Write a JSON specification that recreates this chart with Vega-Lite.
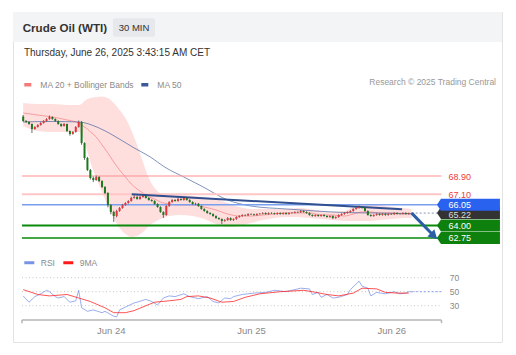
{
"$schema":"https://vega.github.io/schema/vega-lite/v6.json",
"width":489,"height":330,
"padding":{"left":13,"top":12,"right":14,"bottom":13},
"background":"#ffffff",
"config":{"font":"Liberation Sans","view":{"stroke":"#e3e3e3","strokeWidth":1}},
"datasets":{
"candles":[
{"t":"2025-06-23T09:00Z","o":74.80,"h":74.95,"l":74.28,"c":74.36},
{"t":"2025-06-23T09:30Z","o":74.36,"h":74.45,"l":74.18,"c":74.26},
{"t":"2025-06-23T10:00Z","o":74.26,"h":74.34,"l":73.98,"c":74.06},
{"t":"2025-06-23T10:30Z","o":74.06,"h":74.12,"l":73.17,"c":73.56},
{"t":"2025-06-23T11:00Z","o":73.56,"h":73.84,"l":73.48,"c":73.76},
{"t":"2025-06-23T11:30Z","o":73.76,"h":74.04,"l":73.70,"c":73.96},
{"t":"2025-06-23T12:00Z","o":73.96,"h":74.24,"l":73.90,"c":74.16},
{"t":"2025-06-23T12:30Z","o":74.16,"h":74.44,"l":74.10,"c":74.36},
{"t":"2025-06-23T13:00Z","o":74.36,"h":74.64,"l":74.30,"c":74.55},
{"t":"2025-06-23T13:30Z","o":74.55,"h":74.90,"l":74.48,"c":74.75},
{"t":"2025-06-23T14:00Z","o":74.75,"h":74.82,"l":74.47,"c":74.55},
{"t":"2025-06-23T14:30Z","o":74.55,"h":74.62,"l":74.28,"c":74.36},
{"t":"2025-06-23T15:00Z","o":74.36,"h":74.42,"l":73.98,"c":74.06},
{"t":"2025-06-23T15:30Z","o":74.06,"h":74.12,"l":73.76,"c":73.86},
{"t":"2025-06-23T16:00Z","o":73.86,"h":74.16,"l":73.80,"c":74.06},
{"t":"2025-06-23T16:30Z","o":74.06,"h":74.10,"l":73.26,"c":73.36},
{"t":"2025-06-23T17:00Z","o":73.36,"h":73.42,"l":72.90,"c":73.07},
{"t":"2025-06-23T17:30Z","o":73.07,"h":73.36,"l":73.00,"c":73.27},
{"t":"2025-06-23T18:00Z","o":73.27,"h":73.84,"l":73.20,"c":73.76},
{"t":"2025-06-23T18:30Z","o":73.76,"h":74.40,"l":73.70,"c":74.26},
{"t":"2025-06-23T19:00Z","o":74.26,"h":74.35,"l":72.00,"c":72.17},
{"t":"2025-06-23T19:30Z","o":72.17,"h":72.25,"l":70.50,"c":70.69},
{"t":"2025-06-23T20:00Z","o":70.69,"h":70.80,"l":69.40,"c":69.50},
{"t":"2025-06-23T20:30Z","o":69.50,"h":69.60,"l":68.55,"c":68.70},
{"t":"2025-06-23T21:00Z","o":68.70,"h":68.85,"l":68.30,"c":68.50},
{"t":"2025-06-23T21:30Z","o":68.50,"h":68.95,"l":68.42,"c":68.80},
{"t":"2025-06-23T22:00Z","o":68.80,"h":68.88,"l":68.30,"c":68.40},
{"t":"2025-06-23T22:30Z","o":68.40,"h":68.48,"l":67.70,"c":67.81},
{"t":"2025-06-23T23:00Z","o":67.81,"h":67.90,"l":67.10,"c":67.21},
{"t":"2025-06-23T23:30Z","o":67.21,"h":67.30,"l":65.80,"c":66.02},
{"t":"2025-06-24T00:00Z","o":66.02,"h":66.10,"l":65.10,"c":65.33},
{"t":"2025-06-24T00:30Z","o":65.33,"h":65.45,"l":64.34,"c":64.93},
{"t":"2025-06-24T01:00Z","o":64.93,"h":65.55,"l":64.80,"c":65.43},
{"t":"2025-06-24T01:30Z","o":65.43,"h":65.82,"l":65.35,"c":65.73},
{"t":"2025-06-24T02:00Z","o":65.73,"h":66.10,"l":65.65,"c":66.02},
{"t":"2025-06-24T02:30Z","o":66.02,"h":66.30,"l":65.95,"c":66.22},
{"t":"2025-06-24T03:00Z","o":66.22,"h":66.50,"l":66.15,"c":66.42},
{"t":"2025-06-24T03:30Z","o":66.42,"h":66.85,"l":66.35,"c":66.72},
{"t":"2025-06-24T04:00Z","o":66.72,"h":67.00,"l":66.65,"c":66.82},
{"t":"2025-06-24T04:30Z","o":66.82,"h":66.95,"l":66.55,"c":66.62},
{"t":"2025-06-24T05:00Z","o":66.62,"h":66.92,"l":66.55,"c":66.82},
{"t":"2025-06-24T05:30Z","o":66.82,"h":67.05,"l":66.75,"c":66.92},
{"t":"2025-06-24T06:00Z","o":66.92,"h":67.00,"l":66.65,"c":66.72},
{"t":"2025-06-24T06:30Z","o":66.72,"h":66.80,"l":66.45,"c":66.52},
{"t":"2025-06-24T07:00Z","o":66.52,"h":66.60,"l":66.35,"c":66.42},
{"t":"2025-06-24T07:30Z","o":66.42,"h":66.50,"l":66.05,"c":66.12},
{"t":"2025-06-24T08:00Z","o":66.12,"h":66.20,"l":65.75,"c":65.82},
{"t":"2025-06-24T08:30Z","o":65.82,"h":65.90,"l":65.25,"c":65.33},
{"t":"2025-06-24T09:00Z","o":65.33,"h":65.40,"l":64.73,"c":65.03},
{"t":"2025-06-24T09:30Z","o":65.03,"h":66.00,"l":64.95,"c":65.92},
{"t":"2025-06-24T10:00Z","o":65.92,"h":66.40,"l":65.85,"c":66.32},
{"t":"2025-06-24T10:30Z","o":66.32,"h":66.60,"l":66.25,"c":66.52},
{"t":"2025-06-24T11:00Z","o":66.52,"h":66.60,"l":66.35,"c":66.42},
{"t":"2025-06-24T11:30Z","o":66.42,"h":66.72,"l":66.35,"c":66.62},
{"t":"2025-06-24T12:00Z","o":66.62,"h":66.70,"l":66.45,"c":66.52},
{"t":"2025-06-24T12:30Z","o":66.52,"h":66.82,"l":66.45,"c":66.72},
{"t":"2025-06-24T13:00Z","o":66.72,"h":66.80,"l":66.45,"c":66.52},
{"t":"2025-06-24T13:30Z","o":66.52,"h":66.60,"l":66.25,"c":66.32},
{"t":"2025-06-24T14:00Z","o":66.32,"h":66.40,"l":66.05,"c":66.12},
{"t":"2025-06-24T14:30Z","o":66.12,"h":66.25,"l":66.02,"c":66.15},
{"t":"2025-06-24T15:00Z","o":66.15,"h":66.22,"l":65.85,"c":65.92},
{"t":"2025-06-24T15:30Z","o":65.92,"h":66.00,"l":65.55,"c":65.63},
{"t":"2025-06-24T16:00Z","o":65.63,"h":65.70,"l":65.35,"c":65.43},
{"t":"2025-06-24T16:30Z","o":65.43,"h":65.50,"l":65.15,"c":65.23},
{"t":"2025-06-24T17:00Z","o":65.23,"h":65.32,"l":65.05,"c":65.13},
{"t":"2025-06-24T17:30Z","o":65.13,"h":65.20,"l":64.85,"c":64.93},
{"t":"2025-06-24T18:00Z","o":64.93,"h":65.00,"l":64.65,"c":64.73},
{"t":"2025-06-24T18:30Z","o":64.73,"h":64.80,"l":64.55,"c":64.63},
{"t":"2025-06-24T19:00Z","o":64.63,"h":64.70,"l":64.14,"c":64.44},
{"t":"2025-06-24T19:30Z","o":64.44,"h":64.62,"l":64.36,"c":64.53},
{"t":"2025-06-24T20:00Z","o":64.53,"h":64.82,"l":64.46,"c":64.73},
{"t":"2025-06-24T20:30Z","o":64.73,"h":64.80,"l":64.45,"c":64.53},
{"t":"2025-06-24T21:00Z","o":64.53,"h":64.70,"l":64.45,"c":64.63},
{"t":"2025-06-24T21:30Z","o":64.63,"h":64.90,"l":64.56,"c":64.83},
{"t":"2025-06-24T22:00Z","o":64.83,"h":65.00,"l":64.76,"c":64.93},
{"t":"2025-06-24T22:30Z","o":64.93,"h":65.10,"l":64.86,"c":65.03},
{"t":"2025-06-24T23:00Z","o":65.03,"h":65.10,"l":64.92,"c":65.00},
{"t":"2025-06-24T23:30Z","o":65.00,"h":65.20,"l":64.93,"c":65.13},
{"t":"2025-06-25T00:00Z","o":65.13,"h":65.20,"l":65.03,"c":65.10},
{"t":"2025-06-25T00:30Z","o":65.10,"h":65.17,"l":64.96,"c":65.03},
{"t":"2025-06-25T01:00Z","o":65.03,"h":65.20,"l":64.96,"c":65.13},
{"t":"2025-06-25T01:30Z","o":65.13,"h":65.23,"l":65.06,"c":65.16},
{"t":"2025-06-25T02:00Z","o":65.16,"h":65.30,"l":65.09,"c":65.23},
{"t":"2025-06-25T02:30Z","o":65.23,"h":65.30,"l":65.06,"c":65.13},
{"t":"2025-06-25T03:00Z","o":65.13,"h":65.30,"l":65.06,"c":65.23},
{"t":"2025-06-25T03:30Z","o":65.23,"h":65.30,"l":65.13,"c":65.20},
{"t":"2025-06-25T04:00Z","o":65.20,"h":65.27,"l":65.06,"c":65.13},
{"t":"2025-06-25T04:30Z","o":65.13,"h":65.30,"l":65.06,"c":65.23},
{"t":"2025-06-25T05:00Z","o":65.23,"h":65.30,"l":65.06,"c":65.13},
{"t":"2025-06-25T05:30Z","o":65.13,"h":65.30,"l":65.06,"c":65.23},
{"t":"2025-06-25T06:00Z","o":65.23,"h":65.30,"l":65.06,"c":65.13},
{"t":"2025-06-25T06:30Z","o":65.13,"h":65.30,"l":65.06,"c":65.23},
{"t":"2025-06-25T07:00Z","o":65.23,"h":65.32,"l":65.16,"c":65.25},
{"t":"2025-06-25T07:30Z","o":65.25,"h":65.40,"l":65.18,"c":65.33},
{"t":"2025-06-25T08:00Z","o":65.33,"h":65.40,"l":65.22,"c":65.30},
{"t":"2025-06-25T08:30Z","o":65.30,"h":65.52,"l":65.24,"c":65.43},
{"t":"2025-06-25T09:00Z","o":65.43,"h":65.50,"l":65.26,"c":65.33},
{"t":"2025-06-25T09:30Z","o":65.33,"h":65.40,"l":65.16,"c":65.23},
{"t":"2025-06-25T10:00Z","o":65.23,"h":65.30,"l":64.96,"c":65.03},
{"t":"2025-06-25T10:30Z","o":65.03,"h":65.10,"l":64.86,"c":64.93},
{"t":"2025-06-25T11:00Z","o":64.93,"h":65.10,"l":64.86,"c":65.03},
{"t":"2025-06-25T11:30Z","o":65.03,"h":65.10,"l":64.86,"c":64.93},
{"t":"2025-06-25T12:00Z","o":64.93,"h":65.10,"l":64.86,"c":65.03},
{"t":"2025-06-25T12:30Z","o":65.03,"h":65.10,"l":64.86,"c":64.93},
{"t":"2025-06-25T13:00Z","o":64.93,"h":65.00,"l":64.76,"c":64.83},
{"t":"2025-06-25T13:30Z","o":64.83,"h":65.00,"l":64.76,"c":64.93},
{"t":"2025-06-25T14:00Z","o":64.93,"h":65.00,"l":64.62,"c":64.73},
{"t":"2025-06-25T14:30Z","o":64.73,"h":64.90,"l":64.66,"c":64.83},
{"t":"2025-06-25T15:00Z","o":64.83,"h":65.10,"l":64.76,"c":65.03},
{"t":"2025-06-25T15:30Z","o":65.03,"h":65.20,"l":64.96,"c":65.13},
{"t":"2025-06-25T16:00Z","o":65.13,"h":65.30,"l":65.06,"c":65.23},
{"t":"2025-06-25T16:30Z","o":65.23,"h":65.40,"l":65.16,"c":65.33},
{"t":"2025-06-25T17:00Z","o":65.33,"h":65.50,"l":65.26,"c":65.43},
{"t":"2025-06-25T17:30Z","o":65.43,"h":65.70,"l":65.36,"c":65.63},
{"t":"2025-06-25T18:00Z","o":65.63,"h":65.80,"l":65.56,"c":65.73},
{"t":"2025-06-25T18:30Z","o":65.73,"h":65.95,"l":65.66,"c":65.82},
{"t":"2025-06-25T19:00Z","o":65.82,"h":65.90,"l":65.66,"c":65.73},
{"t":"2025-06-25T19:30Z","o":65.73,"h":65.80,"l":65.36,"c":65.43},
{"t":"2025-06-25T20:00Z","o":65.43,"h":65.50,"l":64.96,"c":65.03},
{"t":"2025-06-25T20:30Z","o":65.03,"h":65.10,"l":64.86,"c":64.93},
{"t":"2025-06-25T21:00Z","o":64.93,"h":65.10,"l":64.86,"c":65.03},
{"t":"2025-06-25T21:30Z","o":65.03,"h":65.20,"l":64.96,"c":65.13},
{"t":"2025-06-25T22:00Z","o":65.13,"h":65.20,"l":64.96,"c":65.03},
{"t":"2025-06-25T22:30Z","o":65.03,"h":65.20,"l":64.96,"c":65.13},
{"t":"2025-06-25T23:00Z","o":65.13,"h":65.20,"l":64.96,"c":65.03},
{"t":"2025-06-25T23:30Z","o":65.03,"h":65.20,"l":64.96,"c":65.13},
{"t":"2025-06-26T00:00Z","o":65.13,"h":65.20,"l":65.03,"c":65.10},
{"t":"2025-06-26T00:30Z","o":65.10,"h":65.30,"l":65.03,"c":65.23},
{"t":"2025-06-26T01:00Z","o":65.23,"h":65.30,"l":65.06,"c":65.13},
{"t":"2025-06-26T01:30Z","o":65.13,"h":65.22,"l":65.06,"c":65.15},
{"t":"2025-06-26T02:00Z","o":65.15,"h":65.30,"l":65.08,"c":65.23},
{"t":"2025-06-26T02:30Z","o":65.23,"h":65.30,"l":65.06,"c":65.13},
{"t":"2025-06-26T03:00Z","o":65.13,"h":65.27,"l":65.06,"c":65.20},
{"t":"2025-06-26T03:30Z","o":65.20,"h":65.28,"l":65.14,"c":65.22}
],
"bb":[
{"t":"2025-06-23T09:00Z","up":76.14,"lo":73.86},
{"t":"2025-06-23T11:30Z","up":76.04,"lo":73.36},
{"t":"2025-06-23T14:00Z","up":76.04,"lo":73.27},
{"t":"2025-06-23T16:30Z","up":75.94,"lo":73.27},
{"t":"2025-06-23T18:30Z","up":75.94,"lo":73.27},
{"t":"2025-06-23T19:00Z","up":76.04,"lo":73.07},
{"t":"2025-06-23T19:30Z","up":76.34,"lo":72.27},
{"t":"2025-06-23T20:00Z","up":76.54,"lo":71.28},
{"t":"2025-06-23T20:30Z","up":76.64,"lo":70.29},
{"t":"2025-06-23T21:30Z","up":76.74,"lo":68.70},
{"t":"2025-06-23T22:30Z","up":76.79,"lo":67.31},
{"t":"2025-06-23T23:30Z","up":76.64,"lo":65.92},
{"t":"2025-06-24T00:30Z","up":76.14,"lo":64.73},
{"t":"2025-06-24T01:30Z","up":75.45,"lo":63.74},
{"t":"2025-06-24T02:30Z","up":74.65,"lo":63.15},
{"t":"2025-06-24T03:30Z","up":73.46,"lo":62.85},
{"t":"2025-06-24T04:30Z","up":71.98,"lo":62.95},
{"t":"2025-06-24T05:30Z","up":70.29,"lo":63.34},
{"t":"2025-06-24T06:30Z","up":68.70,"lo":63.94},
{"t":"2025-06-24T07:30Z","up":67.71,"lo":64.34},
{"t":"2025-06-24T08:30Z","up":67.21,"lo":64.63},
{"t":"2025-06-24T10:00Z","up":67.11,"lo":64.93},
{"t":"2025-06-24T12:00Z","up":67.02,"lo":65.03},
{"t":"2025-06-24T14:00Z","up":66.92,"lo":64.93},
{"t":"2025-06-24T16:00Z","up":66.82,"lo":64.63},
{"t":"2025-06-24T18:00Z","up":66.62,"lo":64.14},
{"t":"2025-06-24T20:00Z","up":66.22,"lo":63.84},
{"t":"2025-06-24T22:00Z","up":65.82,"lo":63.94},
{"t":"2025-06-25T00:00Z","up":65.63,"lo":64.24},
{"t":"2025-06-25T02:00Z","up":65.63,"lo":64.53},
{"t":"2025-06-25T04:00Z","up":65.63,"lo":64.73},
{"t":"2025-06-25T06:00Z","up":65.63,"lo":64.83},
{"t":"2025-06-25T08:00Z","up":65.73,"lo":64.83},
{"t":"2025-06-25T10:00Z","up":65.63,"lo":64.73},
{"t":"2025-06-25T12:00Z","up":65.43,"lo":64.63},
{"t":"2025-06-25T14:00Z","up":65.33,"lo":64.53},
{"t":"2025-06-25T16:00Z","up":65.43,"lo":64.44},
{"t":"2025-06-25T17:30Z","up":65.82,"lo":64.44},
{"t":"2025-06-25T19:00Z","up":66.12,"lo":64.44},
{"t":"2025-06-25T20:30Z","up":66.12,"lo":64.44},
{"t":"2025-06-25T22:00Z","up":66.02,"lo":64.53},
{"t":"2025-06-26T00:00Z","up":65.82,"lo":64.63},
{"t":"2025-06-26T02:00Z","up":65.73,"lo":64.73},
{"t":"2025-06-26T03:30Z","up":65.63,"lo":64.73}
],
"ma":[
{"t":"2025-06-23T09:00Z","s":"MA 20 + Bollinger Bands","v":75.15},
{"t":"2025-06-23T11:30Z","s":"MA 20 + Bollinger Bands","v":74.95},
{"t":"2025-06-23T14:00Z","s":"MA 20 + Bollinger Bands","v":74.75},
{"t":"2025-06-23T16:30Z","s":"MA 20 + Bollinger Bands","v":74.46},
{"t":"2025-06-23T18:30Z","s":"MA 20 + Bollinger Bands","v":74.16},
{"t":"2025-06-23T19:00Z","s":"MA 20 + Bollinger Bands","v":73.96},
{"t":"2025-06-23T19:30Z","s":"MA 20 + Bollinger Bands","v":73.76},
{"t":"2025-06-23T20:00Z","s":"MA 20 + Bollinger Bands","v":73.56},
{"t":"2025-06-23T20:30Z","s":"MA 20 + Bollinger Bands","v":73.27},
{"t":"2025-06-23T21:30Z","s":"MA 20 + Bollinger Bands","v":72.77},
{"t":"2025-06-23T22:30Z","s":"MA 20 + Bollinger Bands","v":71.98},
{"t":"2025-06-23T23:30Z","s":"MA 20 + Bollinger Bands","v":71.18},
{"t":"2025-06-24T00:30Z","s":"MA 20 + Bollinger Bands","v":70.29},
{"t":"2025-06-24T01:30Z","s":"MA 20 + Bollinger Bands","v":69.50},
{"t":"2025-06-24T02:30Z","s":"MA 20 + Bollinger Bands","v":68.80},
{"t":"2025-06-24T03:30Z","s":"MA 20 + Bollinger Bands","v":68.11},
{"t":"2025-06-24T04:30Z","s":"MA 20 + Bollinger Bands","v":67.61},
{"t":"2025-06-24T05:30Z","s":"MA 20 + Bollinger Bands","v":67.21},
{"t":"2025-06-24T06:30Z","s":"MA 20 + Bollinger Bands","v":66.82},
{"t":"2025-06-24T07:30Z","s":"MA 20 + Bollinger Bands","v":66.62},
{"t":"2025-06-24T08:30Z","s":"MA 20 + Bollinger Bands","v":66.32},
{"t":"2025-06-24T10:00Z","s":"MA 20 + Bollinger Bands","v":66.12},
{"t":"2025-06-24T12:00Z","s":"MA 20 + Bollinger Bands","v":66.02},
{"t":"2025-06-24T14:00Z","s":"MA 20 + Bollinger Bands","v":66.02},
{"t":"2025-06-24T16:00Z","s":"MA 20 + Bollinger Bands","v":65.82},
{"t":"2025-06-24T18:00Z","s":"MA 20 + Bollinger Bands","v":65.53},
{"t":"2025-06-24T20:00Z","s":"MA 20 + Bollinger Bands","v":65.13},
{"t":"2025-06-24T22:00Z","s":"MA 20 + Bollinger Bands","v":64.93},
{"t":"2025-06-25T00:00Z","s":"MA 20 + Bollinger Bands","v":64.93},
{"t":"2025-06-25T02:00Z","s":"MA 20 + Bollinger Bands","v":65.03},
{"t":"2025-06-25T04:00Z","s":"MA 20 + Bollinger Bands","v":65.13},
{"t":"2025-06-25T06:00Z","s":"MA 20 + Bollinger Bands","v":65.23},
{"t":"2025-06-25T08:00Z","s":"MA 20 + Bollinger Bands","v":65.23},
{"t":"2025-06-25T10:00Z","s":"MA 20 + Bollinger Bands","v":65.23},
{"t":"2025-06-25T12:00Z","s":"MA 20 + Bollinger Bands","v":65.03},
{"t":"2025-06-25T14:00Z","s":"MA 20 + Bollinger Bands","v":65.03},
{"t":"2025-06-25T16:00Z","s":"MA 20 + Bollinger Bands","v":64.93},
{"t":"2025-06-25T17:30Z","s":"MA 20 + Bollinger Bands","v":65.13},
{"t":"2025-06-25T19:00Z","s":"MA 20 + Bollinger Bands","v":65.33},
{"t":"2025-06-25T20:30Z","s":"MA 20 + Bollinger Bands","v":65.33},
{"t":"2025-06-25T22:00Z","s":"MA 20 + Bollinger Bands","v":65.23},
{"t":"2025-06-26T00:00Z","s":"MA 20 + Bollinger Bands","v":65.23},
{"t":"2025-06-26T02:00Z","s":"MA 20 + Bollinger Bands","v":65.13},
{"t":"2025-06-26T03:30Z","s":"MA 20 + Bollinger Bands","v":65.13},
{"t":"2025-06-23T09:00Z","s":"MA 50","v":74.26},
{"t":"2025-06-23T14:00Z","s":"MA 50","v":74.31},
{"t":"2025-06-23T18:30Z","s":"MA 50","v":74.26},
{"t":"2025-06-23T22:00Z","s":"MA 50","v":73.66},
{"t":"2025-06-24T00:00Z","s":"MA 50","v":73.07},
{"t":"2025-06-24T04:00Z","s":"MA 50","v":71.68},
{"t":"2025-06-24T06:30Z","s":"MA 50","v":70.88},
{"t":"2025-06-24T09:30Z","s":"MA 50","v":69.69},
{"t":"2025-06-24T12:30Z","s":"MA 50","v":68.80},
{"t":"2025-06-24T15:30Z","s":"MA 50","v":67.91},
{"t":"2025-06-24T20:00Z","s":"MA 50","v":66.52},
{"t":"2025-06-25T00:00Z","s":"MA 50","v":65.92},
{"t":"2025-06-25T06:00Z","s":"MA 50","v":65.63},
{"t":"2025-06-25T11:00Z","s":"MA 50","v":65.43},
{"t":"2025-06-25T16:00Z","s":"MA 50","v":65.28},
{"t":"2025-06-25T21:00Z","s":"MA 50","v":65.23},
{"t":"2025-06-26T03:30Z","s":"MA 50","v":65.18}
],
"levels":[
{"p":68.90,"label":"68.90","kind":"r2"},
{"p":67.10,"label":"67.10","kind":"r1"},
{"p":66.05,"label":"66.05","kind":"pivot"},
{"p":65.22,"label":"65.22","kind":"last"},
{"p":64.00,"label":"64.00","kind":"s1"},
{"p":62.75,"label":"62.75","kind":"s2"}
],
"rsi":[
{"t":"2025-06-23T09:00Z","s":"RSI","v":44},
{"t":"2025-06-23T10:00Z","s":"RSI","v":35},
{"t":"2025-06-23T11:00Z","s":"RSI","v":43},
{"t":"2025-06-23T12:00Z","s":"RSI","v":47},
{"t":"2025-06-23T13:00Z","s":"RSI","v":52},
{"t":"2025-06-23T13:30Z","s":"RSI","v":50},
{"t":"2025-06-23T14:30Z","s":"RSI","v":43},
{"t":"2025-06-23T15:00Z","s":"RSI","v":41},
{"t":"2025-06-23T16:00Z","s":"RSI","v":43},
{"t":"2025-06-23T17:00Z","s":"RSI","v":35},
{"t":"2025-06-23T18:00Z","s":"RSI","v":37},
{"t":"2025-06-23T18:30Z","s":"RSI","v":52},
{"t":"2025-06-23T19:00Z","s":"RSI","v":27},
{"t":"2025-06-23T20:00Z","s":"RSI","v":22},
{"t":"2025-06-23T21:00Z","s":"RSI","v":24},
{"t":"2025-06-23T22:30Z","s":"RSI","v":20},
{"t":"2025-06-23T23:00Z","s":"RSI","v":22},
{"t":"2025-06-24T00:30Z","s":"RSI","v":15},
{"t":"2025-06-24T01:00Z","s":"RSI","v":14},
{"t":"2025-06-24T01:30Z","s":"RSI","v":24},
{"t":"2025-06-24T02:30Z","s":"RSI","v":28},
{"t":"2025-06-24T04:00Z","s":"RSI","v":34},
{"t":"2025-06-24T04:30Z","s":"RSI","v":35},
{"t":"2025-06-24T06:00Z","s":"RSI","v":39},
{"t":"2025-06-24T07:00Z","s":"RSI","v":36},
{"t":"2025-06-24T08:00Z","s":"RSI","v":31},
{"t":"2025-06-24T09:00Z","s":"RSI","v":41},
{"t":"2025-06-24T10:00Z","s":"RSI","v":44},
{"t":"2025-06-24T11:00Z","s":"RSI","v":43},
{"t":"2025-06-24T12:30Z","s":"RSI","v":47},
{"t":"2025-06-24T13:30Z","s":"RSI","v":43},
{"t":"2025-06-24T15:00Z","s":"RSI","v":40},
{"t":"2025-06-24T16:30Z","s":"RSI","v":43},
{"t":"2025-06-24T17:30Z","s":"RSI","v":36},
{"t":"2025-06-24T18:30Z","s":"RSI","v":34},
{"t":"2025-06-24T19:30Z","s":"RSI","v":41},
{"t":"2025-06-24T20:30Z","s":"RSI","v":40},
{"t":"2025-06-24T21:00Z","s":"RSI","v":43},
{"t":"2025-06-24T22:30Z","s":"RSI","v":46},
{"t":"2025-06-25T00:30Z","s":"RSI","v":48},
{"t":"2025-06-25T02:30Z","s":"RSI","v":49},
{"t":"2025-06-25T04:00Z","s":"RSI","v":52},
{"t":"2025-06-25T06:00Z","s":"RSI","v":50},
{"t":"2025-06-25T07:00Z","s":"RSI","v":52},
{"t":"2025-06-25T08:30Z","s":"RSI","v":55},
{"t":"2025-06-25T10:00Z","s":"RSI","v":54},
{"t":"2025-06-25T10:30Z","s":"RSI","v":46},
{"t":"2025-06-25T11:30Z","s":"RSI","v":49},
{"t":"2025-06-25T12:00Z","s":"RSI","v":42},
{"t":"2025-06-25T13:00Z","s":"RSI","v":46},
{"t":"2025-06-25T14:00Z","s":"RSI","v":41},
{"t":"2025-06-25T15:00Z","s":"RSI","v":42},
{"t":"2025-06-25T16:30Z","s":"RSI","v":46},
{"t":"2025-06-25T17:00Z","s":"RSI","v":53},
{"t":"2025-06-25T18:30Z","s":"RSI","v":65},
{"t":"2025-06-25T19:00Z","s":"RSI","v":58},
{"t":"2025-06-25T20:00Z","s":"RSI","v":55},
{"t":"2025-06-25T20:30Z","s":"RSI","v":44},
{"t":"2025-06-25T21:30Z","s":"RSI","v":49},
{"t":"2025-06-25T23:00Z","s":"RSI","v":47},
{"t":"2025-06-26T00:30Z","s":"RSI","v":50},
{"t":"2025-06-26T01:30Z","s":"RSI","v":47},
{"t":"2025-06-26T02:30Z","s":"RSI","v":48},
{"t":"2025-06-26T03:00Z","s":"RSI","v":50},
{"t":"2025-06-26T03:30Z","s":"RSI","v":50},
{"t":"2025-06-23T09:00Z","s":"9MA","v":53},
{"t":"2025-06-23T11:30Z","s":"9MA","v":46},
{"t":"2025-06-23T13:30Z","s":"9MA","v":44},
{"t":"2025-06-23T16:30Z","s":"9MA","v":46},
{"t":"2025-06-23T18:30Z","s":"9MA","v":41},
{"t":"2025-06-23T20:30Z","s":"9MA","v":36},
{"t":"2025-06-23T23:00Z","s":"9MA","v":27},
{"t":"2025-06-24T00:30Z","s":"9MA","v":20},
{"t":"2025-06-24T02:30Z","s":"9MA","v":20},
{"t":"2025-06-24T04:00Z","s":"9MA","v":23},
{"t":"2025-06-24T06:00Z","s":"9MA","v":30},
{"t":"2025-06-24T07:30Z","s":"9MA","v":35},
{"t":"2025-06-24T10:00Z","s":"9MA","v":37},
{"t":"2025-06-24T12:00Z","s":"9MA","v":39},
{"t":"2025-06-24T13:00Z","s":"9MA","v":43},
{"t":"2025-06-24T15:00Z","s":"9MA","v":44},
{"t":"2025-06-24T17:00Z","s":"9MA","v":41},
{"t":"2025-06-24T19:00Z","s":"9MA","v":35},
{"t":"2025-06-24T21:00Z","s":"9MA","v":36},
{"t":"2025-06-24T23:00Z","s":"9MA","v":42},
{"t":"2025-06-25T01:30Z","s":"9MA","v":47},
{"t":"2025-06-25T05:00Z","s":"9MA","v":50},
{"t":"2025-06-25T09:00Z","s":"9MA","v":52},
{"t":"2025-06-25T10:30Z","s":"9MA","v":50},
{"t":"2025-06-25T13:00Z","s":"9MA","v":46},
{"t":"2025-06-25T15:00Z","s":"9MA","v":44},
{"t":"2025-06-25T17:30Z","s":"9MA","v":48},
{"t":"2025-06-25T19:00Z","s":"9MA","v":55},
{"t":"2025-06-25T21:30Z","s":"9MA","v":54},
{"t":"2025-06-25T23:00Z","s":"9MA","v":49},
{"t":"2025-06-26T01:00Z","s":"9MA","v":48},
{"t":"2025-06-26T03:00Z","s":"9MA","v":48}
]
},
"resolve":{"scale":{"y":"independent","color":"independent"},"legend":{"color":"independent"},"axis":{"x":"independent","y":"independent"}},
"layer":[
{
"resolve":{"axis":{"x":"independent","y":"independent"}},
"layer":[
{"data":{"values":[{}]},"mark":{"type":"rect","color":"#f3f4f5"},
 "encoding":{"y":{"datum":85.17,"type":"quantitative","scale":{"domain":[52.432,85.17],"nice":false,"zero":false,"padding":0},"axis":null},"y2":{"datum":82.19}}},
{"data":{"values":[{}]},"mark":{"type":"rect","color":"#e6e8eb","cornerRadius":2},
 "encoding":{"x":{"datum":{"year":2025,"month":6,"date":24,"hours":0,"minutes":22,"utc":true},"type":"temporal","axis":null},
  "x2":{"datum":{"year":2025,"month":6,"date":24,"hours":7,"minutes":34,"utc":true}},
  "y":{"datum":84.54,"type":"quantitative","axis":null},"y2":{"datum":82.72}}},
{"data":{"values":[{}]},"mark":{"type":"text","text":"Crude Oil (WTI)","align":"left","baseline":"alphabetic","fontSize":11.6,"fontWeight":"bold","color":"#333333"},
 "encoding":{"x":{"datum":{"year":2025,"month":6,"date":23,"hours":8,"minutes":55,"utc":true},"type":"temporal","axis":null},
  "y":{"datum":83.19,"type":"quantitative","axis":null}}},
{"data":{"values":[{}]},"mark":{"type":"text","text":"30 MIN","align":"center","baseline":"alphabetic","fontSize":9.5,"color":"#333333"},
 "encoding":{"x":{"datum":{"year":2025,"month":6,"date":24,"hours":3,"minutes":58,"utc":true},"type":"temporal","axis":null},
  "y":{"datum":83.32,"type":"quantitative","axis":null}}},
{"data":{"values":[{}]},"mark":{"type":"text","text":"Thursday, June 26, 2025 3:43:15 AM CET","align":"left","baseline":"alphabetic","fontSize":10,"color":"#333333"},
 "encoding":{"x":{"datum":{"year":2025,"month":6,"date":23,"hours":9,"minutes":8,"utc":true},"type":"temporal","axis":null},
  "y":{"datum":80.83,"type":"quantitative","axis":null}}},
{"data":{"values":[{}]},"mark":{"type":"text","text":"Research © 2025 Trading Central","align":"right","baseline":"alphabetic","fontSize":8.5,"color":"#999999"},
 "encoding":{"x":{"datum":{"year":2025,"month":6,"date":26,"hours":17,"minutes":56,"utc":true},"type":"temporal","axis":null},
  "y":{"datum":77.93,"type":"quantitative","axis":null}}},
{"data":{"name":"bb"},"mark":{"type":"area","color":"#ffd3d3","opacity":0.75,"interpolate":"monotone"},
 "encoding":{"x":{"field":"t","type":"temporal","axis":null},"y":{"field":"up","type":"quantitative","axis":null},"y2":{"field":"lo"}}},
{"data":{"name":"ma"},"mark":{"type":"line","strokeWidth":1,"opacity":0.65,"interpolate":"monotone"},
 "encoding":{"x":{"field":"t","type":"temporal","axis":null},"y":{"field":"v","type":"quantitative","axis":null},
  "color":{"field":"s","type":"nominal","scale":{"domain":["MA 20 + Bollinger Bands","MA 50"],"range":["#f47a7a","#3a5a9a"]},
   "legend":{"orient":"none","legendX":9.3,"legendY":67,"direction":"horizontal","title":null,"symbolType":"stroke","symbolSize":49,"symbolStrokeWidth":3.5,"symbolOpacity":1,"labelFontSize":8.5,"labelColor":"#8a8a8a","labelOffset":7,"columnPadding":0,"padding":0}}}},
{"data":{"name":"levels"},"transform":[{"filter":"datum.kind !== 'last'"}],"mark":{"type":"rule"},
 "encoding":{"x":{"datum":{"year":2025,"month":6,"date":23,"hours":8,"minutes":48,"utc":true},"type":"temporal","axis":null},
  "x2":{"datum":{"year":2025,"month":6,"date":26,"hours":8,"minutes":36,"utc":true}},
  "y":{"field":"p","type":"quantitative","axis":null},
  "color":{"condition":[{"test":"datum.kind === 'r2'","value":"#ff8f8f"},{"test":"datum.kind === 'r1'","value":"#ffc6c6"},{"test":"datum.kind === 'pivot'","value":"#78a0ee"}],"value":"#0a8a0a"},
  "strokeWidth":{"condition":[{"test":"datum.kind === 'r1' || datum.kind === 's1'","value":2},{"test":"datum.kind === 'r2'","value":1}],"value":1.5}}},
{"data":{"values":[{}]},"mark":{"type":"rule","color":"#2f4f8f","strokeWidth":2},
 "encoding":{"x":{"datum":{"year":2025,"month":6,"date":24,"hours":3,"minutes":35,"utc":true},"type":"temporal","axis":null},
  "x2":{"datum":{"year":2025,"month":6,"date":26,"hours":1,"minutes":51,"utc":true}},
  "y":{"datum":67.08,"type":"quantitative","axis":null},"y2":{"datum":65.60}}},
{"data":{"name":"candles"},"mark":{"type":"rule","color":"#444444","strokeWidth":0.8},
 "encoding":{"x":{"field":"t","type":"temporal","axis":null},"y":{"field":"l","type":"quantitative","axis":null},"y2":{"field":"h"}}},
{"data":{"name":"candles"},"mark":{"type":"bar","size":2},
 "encoding":{"x":{"field":"t","type":"temporal","title":null,
   "scale":{"type":"utc","nice":false,"padding":0,"domain":[{"year":2025,"month":6,"date":23,"hours":7,"minutes":15,"seconds":30,"utc":true},{"year":2025,"month":6,"date":26,"hours":18,"minutes":57,"seconds":30,"utc":true}]},
   "axis":{"orient":"bottom","values":[{"year":2025,"month":6,"date":24,"utc":true},{"year":2025,"month":6,"date":25,"utc":true},{"year":2025,"month":6,"date":26,"utc":true}],"labelExpr":"utcFormat(datum.value, '%b %d')","domain":false,"ticks":false,"grid":false,"tickSize":0,"labelPadding":5.5,"offset":-22,"labelColor":"#888888","labelFontSize":9.5,"title":null,"labelFlush":false,"labelOverlap":false}},
  "y":{"field":"o","type":"quantitative","axis":null,"scale":{"domain":[52.432,85.17],"nice":false,"zero":false,"padding":0}},"y2":{"field":"c"},
  "color":{"condition":{"test":"datum.c >= datum.o","value":"#e3353b"},"value":"#1c7a1c"}}},
{"data":{"values":[{}]},"mark":{"type":"rule","color":"#8596ad","strokeDash":[2,2]},
 "encoding":{"x":{"datum":{"year":2025,"month":6,"date":26,"hours":3,"minutes":30,"utc":true},"type":"temporal","axis":null},
  "x2":{"datum":{"year":2025,"month":6,"date":26,"hours":8,"minutes":36,"utc":true}},
  "y":{"datum":65.22,"type":"quantitative","axis":null}}},
{"data":{"values":[{}]},"mark":{"type":"rule","color":"#2b5ea7","strokeWidth":3},
 "encoding":{"x":{"datum":{"year":2025,"month":6,"date":26,"hours":3,"minutes":30,"utc":true},"type":"temporal","axis":null},
  "x2":{"datum":{"year":2025,"month":6,"date":26,"hours":7,"minutes":19,"utc":true}},
  "y":{"datum":65.22,"type":"quantitative","axis":null},"y2":{"datum":62.95}}},
{"data":{"values":[{}]},"mark":{"type":"point","shape":"triangle-right","angle":44,"filled":true,"opacity":1,"size":100,"color":"#2b5ea7"},
 "encoding":{"x":{"datum":{"year":2025,"month":6,"date":26,"hours":7,"minutes":19,"utc":true},"type":"temporal","axis":null},
  "y":{"datum":62.95,"type":"quantitative","axis":null}}},
{"data":{"name":"levels"},"transform":[{"filter":"datum.kind === 'last'"}],
 "mark":{"type":"point","shape":"M-1,0L-0.873,-0.19L1,-0.19L1,0.19L-0.873,0.19Z","size":3969,"filled":true,"opacity":1,"strokeWidth":0,"color":"#333333"},
 "encoding":{"x":{"datum":{"year":2025,"month":6,"date":26,"hours":13,"minutes":13,"utc":true},"type":"temporal","axis":null},
  "y":{"field":"p","type":"quantitative","axis":null}}},
{"data":{"name":"levels"},"transform":[{"filter":"datum.kind === 'last'"}],
 "mark":{"type":"text","align":"left","baseline":"middle","fontSize":9,"dy":2,"color":"#dddddd"},
 "encoding":{"x":{"datum":{"year":2025,"month":6,"date":26,"hours":9,"minutes":48,"utc":true},"type":"temporal","axis":null},
  "y":{"field":"p","type":"quantitative","axis":null},"text":{"field":"label"}}},
{"data":{"name":"levels"},"transform":[{"filter":"datum.kind === 'pivot' || datum.kind === 's1' || datum.kind === 's2'"}],
 "mark":{"type":"point","shape":"M-1,0L-0.873,-0.19L1,-0.19L1,0.19L-0.873,0.19Z","size":3969,"filled":true,"opacity":1,"strokeWidth":0},
 "encoding":{"x":{"datum":{"year":2025,"month":6,"date":26,"hours":13,"minutes":13,"utc":true},"type":"temporal","axis":null},
  "y":{"field":"p","type":"quantitative","axis":null},
  "color":{"condition":{"test":"datum.kind === 'pivot'","value":"#2962ef"},"value":"#0d800d"}}},
{"data":{"name":"levels"},"transform":[{"filter":"datum.kind !== 'last'"}],
 "mark":{"type":"text","align":"left","baseline":"middle","fontSize":9,"dy":0.5},
 "encoding":{"x":{"datum":{"year":2025,"month":6,"date":26,"hours":9,"minutes":48,"utc":true},"type":"temporal","axis":null},
  "y":{"field":"p","type":"quantitative","axis":null},"text":{"field":"label"},
  "color":{"condition":{"test":"datum.kind === 'r1' || datum.kind === 'r2'","value":"#ee3b3b"},"value":"#ffffff"}}}
]
},
{
"resolve":{"axis":{"x":"independent","y":"independent"}},
"layer":[
{"data":{"values":[{"v":30},{"v":50},{"v":70}]},"mark":{"type":"rule","color":"#c6c6c6","strokeDash":[1,2.5]},
 "encoding":{"x":{"datum":{"year":2025,"month":6,"date":23,"hours":8,"minutes":48,"utc":true},"type":"temporal","axis":null},
  "x2":{"datum":{"year":2025,"month":6,"date":26,"hours":8,"minutes":36,"utc":true}},
  "y":{"field":"v","type":"quantitative","scale":{"domain":[-21.86,449.57],"nice":false,"zero":false,"padding":0},
   "axis":{"orient":"right","values":[30,50,70],"domain":false,"ticks":false,"grid":false,"tickSize":0,"labelPadding":0,"offset":-52.7,"labelColor":"#888888","labelFontSize":8.5,"title":null,"labelFlush":false,"labelOverlap":false}}}},
{"data":{"values":[{}]},"mark":{"type":"rule","color":"#b5b5b5","strokeWidth":1.5},
 "encoding":{"x":{"datum":{"year":2025,"month":6,"date":23,"hours":8,"minutes":48,"utc":true},"type":"temporal","axis":null},
  "x2":{"datum":{"year":2025,"month":6,"date":26,"hours":8,"minutes":36,"utc":true}},
  "y":{"datum":9.57,"type":"quantitative","axis":null}}},
{"data":{"values":[{}]},"mark":{"type":"rule","color":"#b5b5b5","strokeWidth":1.5},
 "encoding":{"x":{"datum":{"year":2025,"month":6,"date":23,"hours":8,"minutes":48,"utc":true},"type":"temporal","axis":null},
  "y":{"datum":9.57,"type":"quantitative","axis":null},"y2":{"datum":5}}},
{"data":{"values":[{}]},"mark":{"type":"rule","color":"#b5b5b5","strokeWidth":1.5},
 "encoding":{"x":{"datum":{"year":2025,"month":6,"date":26,"hours":8,"minutes":36,"utc":true},"type":"temporal","axis":null},
  "y":{"datum":9.57,"type":"quantitative","axis":null},"y2":{"datum":5}}},
{"data":{"values":[{}]},"mark":{"type":"rule","color":"#88a0ea","strokeDash":[2,2]},
 "encoding":{"x":{"datum":{"year":2025,"month":6,"date":26,"hours":3,"minutes":30,"utc":true},"type":"temporal","axis":null},
  "x2":{"datum":{"year":2025,"month":6,"date":26,"hours":8,"minutes":36,"utc":true}},
  "y":{"datum":50,"type":"quantitative","axis":null}}},
{"data":{"name":"rsi"},"mark":{"type":"line","strokeWidth":1,"opacity":0.75},
 "encoding":{"x":{"field":"t","type":"temporal","axis":null},
  "y":{"field":"v","type":"quantitative","axis":null},
  "color":{"field":"s","type":"nominal","scale":{"domain":["RSI","9MA"],"range":["#7893e6","#ff1a1a"]},
   "legend":{"orient":"none","legendX":9.8,"legendY":244,"direction":"horizontal","title":null,"symbolType":"stroke","symbolSize":100,"symbolStrokeWidth":3,"symbolOpacity":1,"labelFontSize":8.5,"labelColor":"#8a8a8a","labelOffset":5,"columnPadding":1,"padding":0}}}}
]
}
]
}
